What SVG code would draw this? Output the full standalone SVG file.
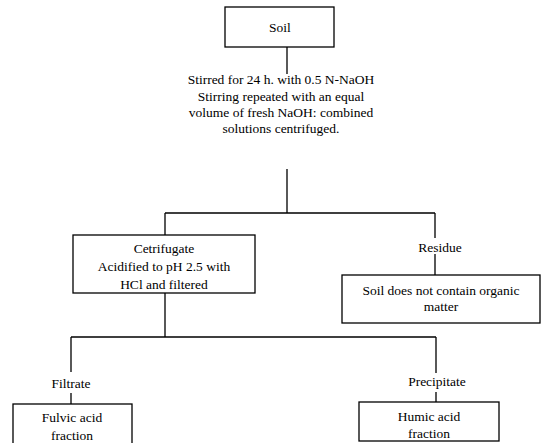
<svg xmlns="http://www.w3.org/2000/svg" width="552" height="443" viewBox="0 0 552 443">
<style>
.b{fill:#fff;stroke:#000;stroke-width:1.3}
.l{fill:none;stroke:#000;stroke-width:1.3}
.t{font-family:'Liberation Serif',serif;font-size:13.5px;fill:#000;text-anchor:middle}
</style>
<rect width="552" height="443" fill="#fff"/>
<g id="connectors">
<path class="l" d="M287 47V74"/>
<path class="l" d="M287 169V213M165 213H435M165 213V235M435 213V238M435 254V275"/>
<path class="l" d="M165 293V337M71 337H436M71 337V372M71 393V404M436 337V373M436 392V402"/>
</g>
<g class="t" font-family="Liberation Serif, serif">
<g id="soil"><rect class="b" x="225" y="7" width="109" height="40"/><text x="280" y="32">Soil</text></g>
<g id="step"><text x="281" y="84">Stirred for 24 h. with 0.5 N-NaOH</text><text x="281" y="101">Stirring repeated with an equal</text><text x="281" y="117">volume of fresh NaOH: combined</text><text x="281" y="133">solutions centrifuged.</text></g>
<g id="cetrifugate"><rect class="b" x="73" y="235" width="182" height="58"/><text x="164" y="253">Cetrifugate</text><text x="164" y="271">Acidified to pH 2.5 with</text><text x="164" y="289">HCl and filtered</text></g>
<g id="residue-label"><text x="440" y="252">Residue</text></g>
<g id="residue"><rect class="b" x="342" y="275" width="198" height="48"/><text x="441" y="295">Soil does not contain organic</text><text x="441" y="311">matter</text></g>
<g id="filtrate-label"><text x="71" y="388">Filtrate</text></g>
<g id="fulvic"><rect class="b" x="13" y="404" width="119" height="45"/><text x="72" y="422">Fulvic acid</text><text x="72" y="440">fraction</text></g>
<g id="precipitate-label"><text x="437" y="386">Precipitate</text></g>
<g id="humic"><rect class="b" x="359" y="402" width="140" height="39"/><text x="429" y="421">Humic acid</text><text x="429" y="438">fraction</text></g>
</g>
</svg>
